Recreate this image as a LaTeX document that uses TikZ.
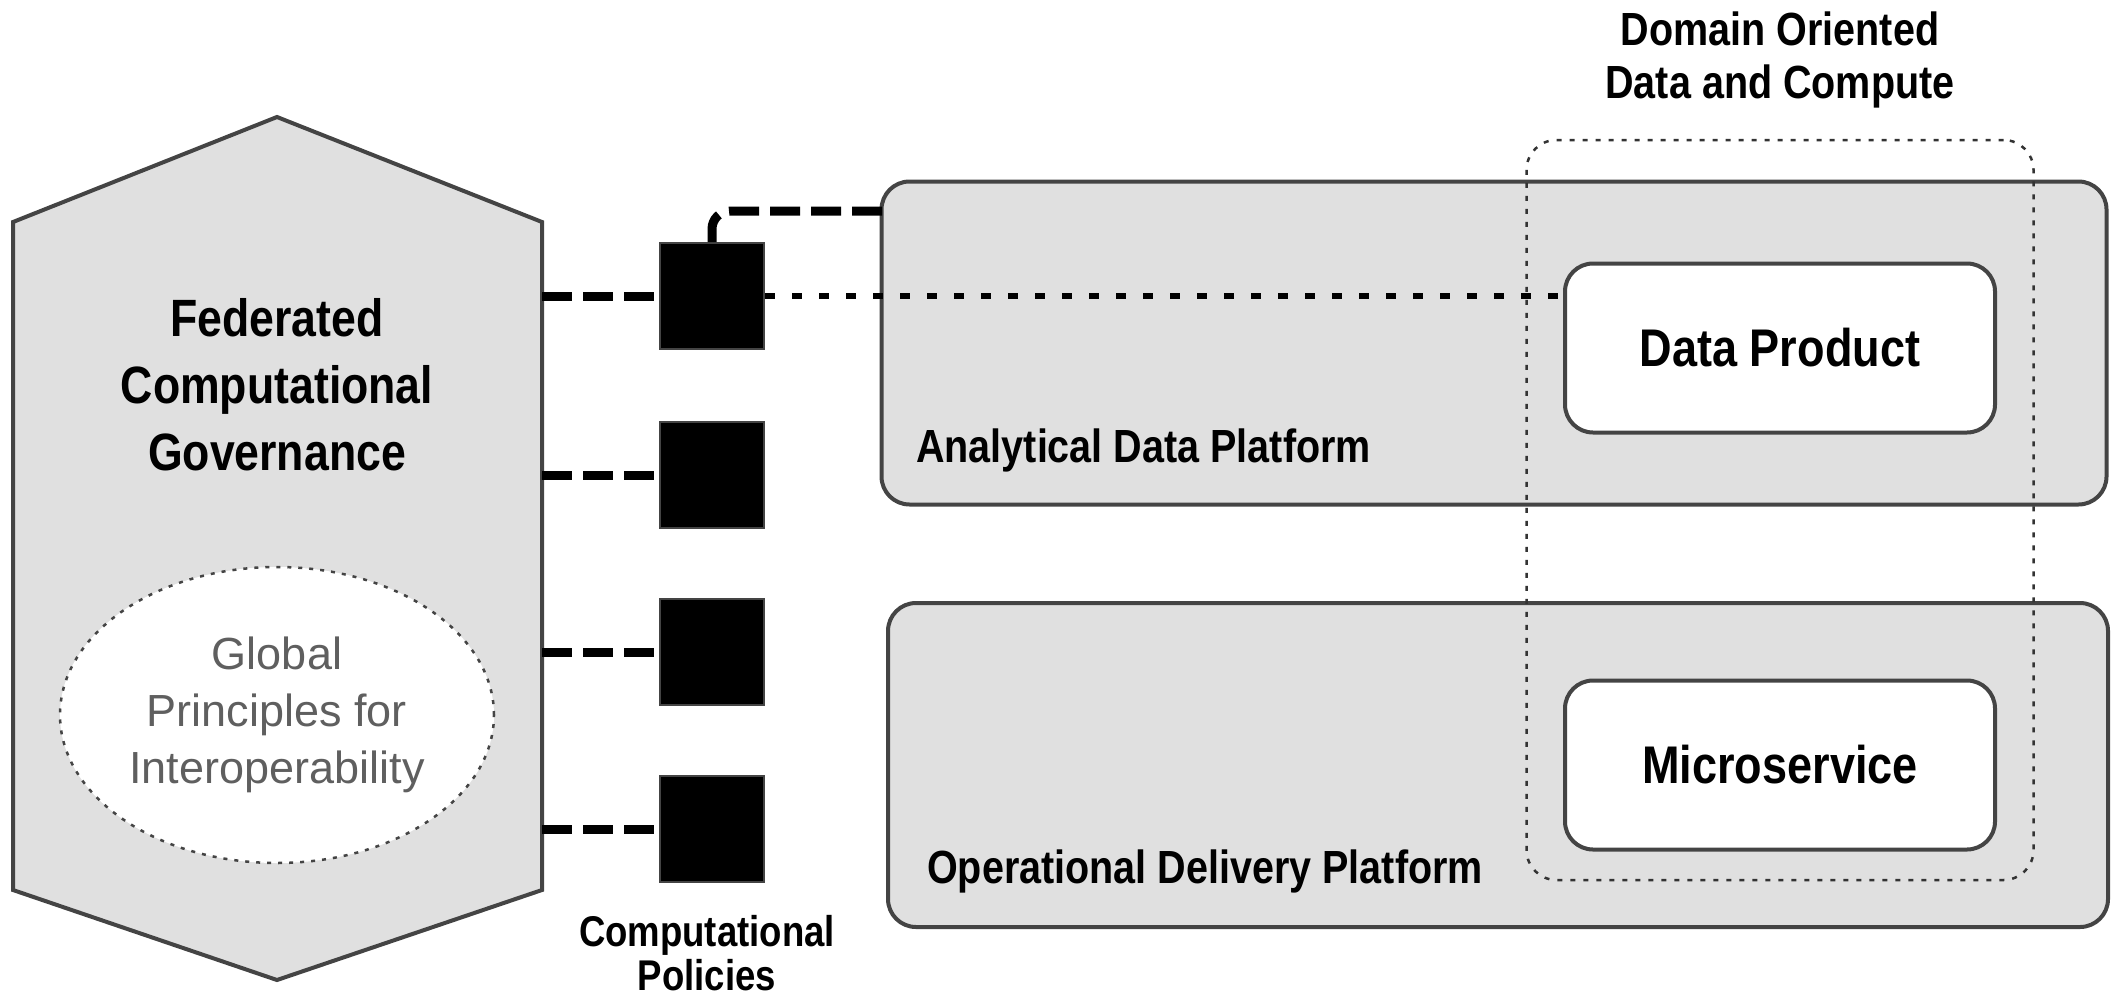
\documentclass[tikz,border=0pt]{standalone}
\usepackage{fontspec}
\setmainfont{Liberation Sans}
\newfontfamily\condsans[FakeStretch=0.85]{Liberation Sans}
\newfontfamily\lightsans{Liberation Sans}
\usetikzlibrary{shapes.geometric}
\definecolor{boxfill}{RGB}{224,224,224}
\definecolor{edgecol}{RGB}{68,68,68}
\definecolor{softtext}{RGB}{95,95,95}
\begin{document}
\begin{tikzpicture}[x=1pt,y=-1pt,
  platformbox/.style={draw=edgecol, line width=4pt, fill=boxfill, rounded corners=28pt, inner sep=0pt},
  innerbox/.style={draw=edgecol, line width=4pt, fill=white, rounded corners=28pt, minimum width=430pt, minimum height=169pt, inner sep=0pt, font=\condsans\bfseries\fontsize{53}{60}\selectfont},
  policybox/.style={fill=black, draw=edgecol, line width=2pt, minimum width=104pt, minimum height=106pt, inner sep=0pt},
  domainbox/.style={draw=black!80, line width=2.5pt, dash pattern=on 5pt off 8pt, rounded corners=30pt, minimum width=507pt, minimum height=740pt, inner sep=0pt},
  thickdash/.style={line width=9pt, dash pattern=on 30pt off 11pt},
  dotconn/.style={line width=6pt, dash pattern=on 10pt off 17pt},
  boldlbl/.style={font=\condsans\bfseries\fontsize{46.5}{53}\selectfont, align=center, inner sep=0pt},
]
\useasboundingbox (0,0) rectangle (2127,1004);

% governance hexagon
\draw[draw=edgecol, line width=4pt, fill=boxfill, line join=miter]
  (277,117) -- (542,222) -- (542,890) -- (277,980) -- (13,890) -- (13,222) -- cycle;
\coordinate (hexE) at (542,500);
\node[boldlbl, font=\condsans\bfseries\fontsize{52.5}{67}\selectfont] (fcg) at (277,385)
  {Federated\\Computational\\Governance};
\node[ellipse, draw=edgecol, line width=2.5pt, dash pattern=on 4pt off 7pt, fill=white,
  minimum width=434pt, minimum height=296pt, inner sep=0pt, align=center, text=softtext,
  font=\lightsans\fontsize{45}{57}\selectfont] (gpi) at (277,715)
  {Global\\Principles for\\Interoperability};

% policies
\node[policybox] (p1) at (712,296) {};
\node[policybox] (p2) at (712,475) {};
\node[policybox] (p3) at (712,652) {};
\node[policybox] (p4) at (712,829) {};
\node[boldlbl, font=\condsans\bfseries\fontsize{43}{44}\selectfont] (cplbl) at (707,953)
  {Computational\\Policies};

\foreach \p in {p1,p2,p3,p4}
  \draw[thickdash] (\p.west -| hexE) -- (\p.west);

% platforms
\node[platformbox, minimum width=1225pt, minimum height=323pt] (adp) at (1494,343) {};
\node[platformbox, minimum width=1220pt, minimum height=324pt] (odp) at (1498,765) {};
\node[boldlbl, anchor=base west] (adplbl) at (916,462) {Analytical Data Platform};
\node[boldlbl, anchor=base west] (odplbl) at (927,883) {Operational Delivery Platform};

% domain oriented data and compute
\node[domainbox] (dom) at (1780,510) {};
\node[boldlbl] (domlbl) at (1780,60) {Domain Oriented\\Data and Compute};

\node[innerbox] (dp) at (1780,348) {Data Product};
\node[innerbox] (ms) at (1780,765) {Microservice};

% connectors
\coordinate (adpin) at (882,211);
\draw[thickdash, rounded corners=18pt] (adpin) -| (p1.north);
\draw[dotconn] (p1.east) -- (p1.east -| dp.west);
\end{tikzpicture}
\end{document}
